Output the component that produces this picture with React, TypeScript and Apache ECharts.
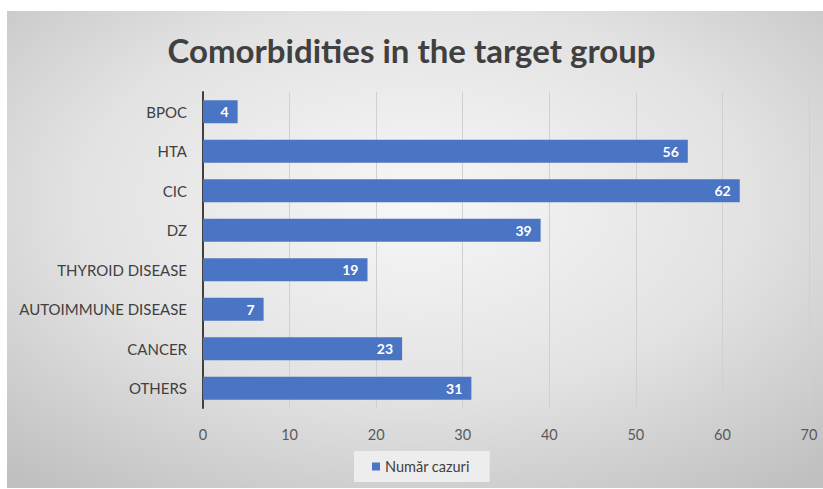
import React, { useEffect, useRef } from "react";
import * as echarts from "echarts";

const categories = ["BPOC", "HTA", "CIC", "DZ", "THYROID DISEASE", "AUTOIMMUNE DISEASE", "CANCER", "OTHERS"];
const values = [4, 56, 62, 39, 19, 7, 23, 31];
const seriesName = "Număr cazuri";
const titleText = "Comorbidities in the target group";

export default function App() {
  const ref = useRef<HTMLDivElement>(null);
  useEffect(() => {
    if (!ref.current) return;
    const chart = echarts.init(ref.current, null, { renderer: "svg" });
    const font = "Lato, 'Open Sans', sans-serif";
    chart.setOption({
      animation: false,
      backgroundColor: "#ffffff",
      graphic: [
        {
          type: "rect",
          z: -10,
          silent: true,
          shape: { x: 7, y: 11, width: 816, height: 477 },
          style: {
            fill: new echarts.graphic.RadialGradient(0.5, 0.4, 0.75, [
              { offset: 0, color: "#f7f7f7" },
              { offset: 0.55, color: "#e2e2e2" },
              { offset: 1, color: "#c0c0c0" },
            ]),
          },
        },
      ],
      title: {
        text: titleText,
        left: "center",
        top: 28,
        textStyle: { fontFamily: font, fontWeight: "bold", fontSize: 33, color: "#404040" },
      },
      legend: {
        data: [seriesName],
        left: 354,
        top: 451,
        icon: "rect",
        itemWidth: 8,
        itemHeight: 8,
        itemGap: 4,
        padding: [8, 20, 8, 18],
        backgroundColor: "rgba(240,240,240,0.9)",
        textStyle: { fontFamily: font, fontSize: 14.5, color: "#404040" },
      },
      grid: { left: 203, right: 14, top: 92, bottom: 81, containLabel: false },
      xAxis: {
        type: "value",
        min: 0,
        max: 70,
        interval: 10,
        axisLine: { show: false },
        axisTick: { show: false },
        splitLine: { lineStyle: { color: "#d0d0d0", width: 1 } },
        axisLabel: { fontFamily: font, fontSize: 14.5, color: "#595959", margin: 19 },
      },
      yAxis: {
        type: "category",
        data: categories,
        inverse: true,
        axisLine: { show: true, lineStyle: { color: "#404040", width: 2 } },
        axisTick: { show: false },
        axisLabel: { fontFamily: font, fontSize: 15, color: "#404040", margin: 16 },
      },
      series: [
        {
          name: seriesName,
          type: "bar",
          data: values,
          barCategoryGap: "42%",
          itemStyle: { color: "#4a74c4" },
          label: {
            show: true,
            position: "insideRight",
            offset: [-4, 0],
            color: "#ffffff",
            fontFamily: font,
            fontWeight: "bold",
            fontSize: 14,
          },
        },
      ],
    });
    return () => chart.dispose();
  }, []);
  return <div ref={ref} style={{ position: "fixed", left: 0, top: 0, width: 823, height: 489 }} />;
}
